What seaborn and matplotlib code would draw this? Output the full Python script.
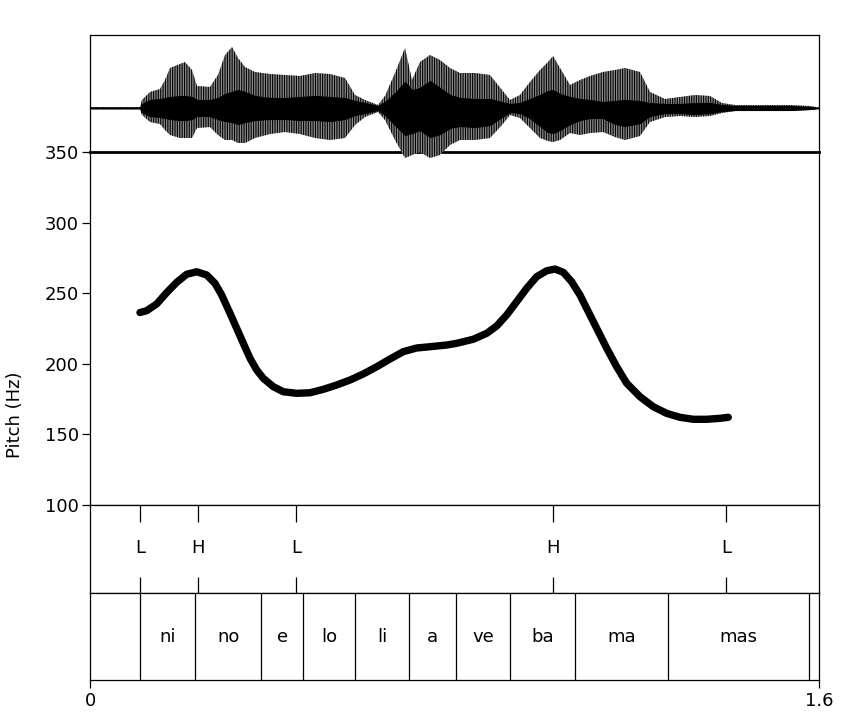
import numpy as np
import pandas as pd
import matplotlib
matplotlib.use("Agg")
import matplotlib.pyplot as plt
import seaborn as sns

sns.set_theme(style="ticks")
plt.rcParams['font.family'] = ['DejaVu Sans']
plt.rcParams['hatch.linewidth'] = 0.8
for k in ("text.color", "axes.labelcolor", "xtick.color", "ytick.color", "axes.edgecolor"):
    plt.rcParams[k] = "black"

# ---------------- data ----------------
# Pitch track (time in s, F0 in Hz)
pitch_time = [0.1097, 0.1244, 0.1464, 0.1683, 0.1903, 0.2122, 0.2342, 0.2561, 0.2743,
              0.2890, 0.3073, 0.3220, 0.3365, 0.3512, 0.3659, 0.3804, 0.4023, 0.4243,
              0.4537, 0.4829, 0.5120, 0.5415, 0.5706, 0.5998, 0.6292, 0.6584, 0.6876,
              0.7170, 0.7462, 0.7829, 0.8048, 0.8413, 0.8707, 0.8926, 0.9146, 0.9365,
              0.9585, 0.9804, 1.0024, 1.0206, 1.0388, 1.0572, 1.0754, 1.0937, 1.1121,
              1.1341, 1.1560, 1.1780, 1.2071, 1.2363, 1.2657, 1.2949, 1.3241, 1.3535,
              1.3827, 1.4009]
pitch_hz = [236.3, 237.6, 242.4, 250.4, 257.7, 263.4, 265.2, 262.9, 257.0,
            248.7, 235.8, 225.1, 214.5, 203.9, 195.6, 189.7, 183.8, 180.2,
            179.1, 179.5, 181.9, 185.0, 188.5, 192.8, 197.9, 203.4, 208.6,
            211.2, 212.1, 213.3, 214.5, 217.4, 221.6, 226.8, 234.6, 244.0,
            253.5, 261.7, 265.9, 267.1, 264.8, 258.1, 248.7, 236.9, 225.1,
            211.0, 197.9, 186.2, 176.7, 169.6, 164.9, 162.1, 160.7, 160.7,
            161.4, 162.1]

# Waveform envelope (time in s; outer and core amplitude, arbitrary units)
wave_time = [0.0, 0.1097, 0.1141, 0.1317, 0.1536, 0.1646, 0.1756, 0.1975, 0.2085,
             0.2239, 0.2348, 0.2634, 0.2809, 0.2963, 0.3117, 0.3248, 0.3402, 0.3621,
             0.3951, 0.4280, 0.4609, 0.4938, 0.5267, 0.5597, 0.5816, 0.6036, 0.6321,
             0.6475, 0.6694, 0.6914, 0.7067, 0.7243, 0.7462, 0.7682, 0.7901, 0.8121,
             0.8450, 0.8779, 0.9043, 0.9218, 0.9438, 0.9657, 0.9877, 1.0052, 1.0162,
             1.0316, 1.0535, 1.0754, 1.0974, 1.1259, 1.1523, 1.1742, 1.2071, 1.2291,
             1.2620, 1.2949, 1.3278, 1.3608, 1.3871, 1.4156, 1.5364, 1.5803, 1.6]
wave_upper = [0.01, 0.01, 0.08, 0.16, 0.19, 0.28, 0.40, 0.44, 0.46,
              0.38, 0.22, 0.21, 0.33, 0.53, 0.61, 0.50, 0.41, 0.36,
              0.34, 0.33, 0.32, 0.35, 0.34, 0.30, 0.13, 0.08, 0.03,
              0.12, 0.35, 0.60, 0.28, 0.46, 0.53, 0.48, 0.40, 0.35,
              0.35, 0.33, 0.18, 0.08, 0.13, 0.26, 0.38, 0.46, 0.52,
              0.40, 0.23, 0.28, 0.32, 0.36, 0.38, 0.40, 0.36, 0.16,
              0.09, 0.11, 0.13, 0.12, 0.05, 0.03, 0.03, 0.02, 0.005]
wave_lower = [-0.01, -0.01, -0.07, -0.14, -0.16, -0.22, -0.27, -0.30, -0.30,
              -0.30, -0.20, -0.19, -0.27, -0.32, -0.32, -0.35, -0.35, -0.30,
              -0.26, -0.24, -0.26, -0.30, -0.32, -0.30, -0.17, -0.09, -0.04,
              -0.12, -0.32, -0.50, -0.47, -0.44, -0.50, -0.47, -0.37, -0.32,
              -0.32, -0.30, -0.17, -0.07, -0.10, -0.20, -0.30, -0.33, -0.34,
              -0.32, -0.25, -0.27, -0.25, -0.24, -0.29, -0.32, -0.28, -0.14,
              -0.09, -0.08, -0.09, -0.08, -0.05, -0.03, -0.03, -0.02, -0.005]
core_upper = [0.005, 0.005, 0.04, 0.08, 0.09, 0.10, 0.11, 0.12, 0.12,
              0.11, 0.08, 0.08, 0.10, 0.14, 0.16, 0.18, 0.16, 0.12,
              0.10, 0.10, 0.11, 0.12, 0.11, 0.10, 0.07, 0.05, 0.02,
              0.06, 0.15, 0.26, 0.18, 0.20, 0.27, 0.20, 0.13, 0.10,
              0.09, 0.09, 0.06, 0.04, 0.05, 0.09, 0.13, 0.17, 0.18,
              0.14, 0.11, 0.09, 0.08, 0.06, 0.07, 0.08, 0.07, 0.05,
              0.04, 0.04, 0.05, 0.05, 0.03, 0.02, 0.02, 0.01, 0.002]
core_lower = [-0.005, -0.005, -0.04, -0.08, -0.09, -0.10, -0.11, -0.12, -0.12,
              -0.11, -0.08, -0.08, -0.11, -0.13, -0.14, -0.16, -0.14, -0.12,
              -0.11, -0.11, -0.12, -0.12, -0.13, -0.11, -0.07, -0.05, -0.02,
              -0.07, -0.17, -0.27, -0.25, -0.22, -0.29, -0.26, -0.20, -0.18,
              -0.19, -0.17, -0.09, -0.04, -0.05, -0.10, -0.18, -0.24, -0.25,
              -0.22, -0.16, -0.12, -0.10, -0.10, -0.16, -0.18, -0.15, -0.08,
              -0.05, -0.05, -0.06, -0.05, -0.03, -0.02, -0.02, -0.01, -0.002]

# Tone tier (points)
tone_time = [0.1097, 0.2373, 0.4526, 1.0171, 1.3967]
tone_label = ["L", "H", "L", "H", "L"]

# Syllable tier (interval boundaries and labels)
syll_bounds = [0.0, 0.1097, 0.2311, 0.376, 0.468, 0.582, 0.701, 0.804,
               0.9225, 1.065, 1.269, 1.577, 1.6]
syll_label = ["", "ni", "no", "e", "lo", "li", "a", "ve", "ba", "ma", "mas", ""]

pitch_ticks = [100, 150, 200, 250, 300, 350]
x_ticks = [0, 1.6]
x_tick_labels = ["0", "1.6"]

# ---------------- figure ----------------
W_PX, H_PX = 854, 713
fig = plt.figure(figsize=(W_PX / 100, H_PX / 100), dpi=100)
L = 90 / W_PX
WD = 729 / W_PX


def rect(top, bot):
    return [L, 1 - bot / H_PX, WD, (bot - top) / H_PX]


ax_p = fig.add_axes(rect(152, 505))
ax_w = fig.add_axes(rect(35, 152))
ax_t = fig.add_axes(rect(505, 593))
ax_s = fig.add_axes(rect(593, 680))

FS = 13
SPW = 0.9
for ax in (ax_w, ax_p, ax_t, ax_s):
    ax.set_xlim(0, 1.6)
    for s in ax.spines.values():
        s.set_linewidth(SPW)
        s.set_color("black")
    ax.set_facecolor("white")

# Waveform
ax_w.set_zorder(5)
ax_w.patch.set_visible(False)
ax_w.fill_between(wave_time, wave_lower, wave_upper, facecolor="#8c8c8c",
                  edgecolor="black", hatch="|" * 7, linewidth=0, clip_on=False)
ax_w.fill_between(wave_time, core_lower, core_upper, facecolor="black",
                  edgecolor="black", linewidth=0.8, clip_on=False)
ax_w.set_ylim(-0.44, 0.73)
ax_w.set_xticks([])
ax_w.set_yticks([])
ax_w.spines["bottom"].set_visible(False)

# Pitch
sns.lineplot(x=pitch_time, y=pitch_hz, ax=ax_p, color="black", linewidth=5.3,
             sort=False, solid_capstyle="round", solid_joinstyle="round")
ax_p.set_ylim(100, 350)
ax_p.set_yticks(pitch_ticks)
ax_p.set_yticklabels([str(v) for v in pitch_ticks], fontsize=FS)
ax_p.set_xticks([])
ax_p.tick_params(axis="y", length=6, width=SPW, pad=2, direction="out")
ax_p.spines["top"].set_linewidth(2.0)
ax_p.set_xlabel("")
ax_p.set_ylabel("")
fig.text(15 / W_PX, 1 - 415 / H_PX, "Pitch (Hz)", rotation=90, ha="center",
         va="center", fontsize=FS)

# Tone tier
ax_t.set_ylim(0, 1)
ax_t.set_xticks([])
ax_t.set_yticks([])
ax_t.vlines(tone_time, 0.81, 1.0, color="black", linewidth=SPW)
ax_t.vlines(tone_time, 0.0, 0.18, color="black", linewidth=SPW)
for t, lab in zip(tone_time, tone_label):
    ax_t.text(t, 0.51, lab, ha="center", va="center", fontsize=FS)

# Syllable tier
ax_s.set_ylim(0, 1)
ax_s.set_yticks([])
ax_s.vlines(syll_bounds[1:-1], 0, 1, color="black", linewidth=SPW)
for a, b, lab in zip(syll_bounds[:-1], syll_bounds[1:], syll_label):
    if lab:
        ax_s.text((a + b) / 2, 0.5, lab, ha="center", va="center", fontsize=FS)
ax_s.set_xticks(x_ticks)
ax_s.set_xticklabels(x_tick_labels, fontsize=FS)
ax_s.tick_params(axis="x", length=6, width=SPW, pad=3, direction="out")

fig.savefig("out.png", dpi=100)
